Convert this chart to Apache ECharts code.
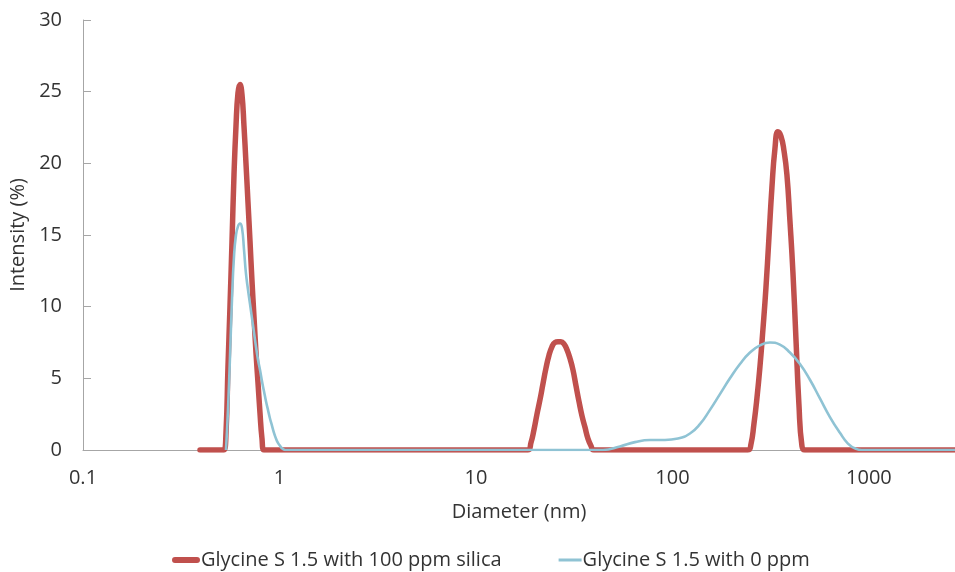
<!DOCTYPE html>
<html>
<head>
<meta charset="utf-8">
<script src="https://cdn.jsdelivr.net/npm/echarts@6/dist/echarts.min.js"></script>
<style>
html,body{margin:0;padding:0;background:#fff;overflow:hidden;}
#chart{width:955px;height:572px;}
</style>
</head>
<body>
<div id="chart"></div>
<script>
// Diameter (nm) and intensity (%)
const redDiameter = [0.394, 0.510,
  0.5219, 0.5343, 0.5469, 0.5599, 0.5732, 0.5868, 0.6007, 0.6149, 0.6295, 0.6444, 0.6597,
  0.6753, 0.6913, 0.7077, 0.7245, 0.7417, 0.7593, 0.7773, 0.7957, 0.8146, 0.8339,
  18.39, 19.05, 19.73, 20.44, 21.17, 21.92, 22.71, 23.52, 24.36, 25.23, 26.14, 27.07,
  28.04, 29.04, 30.08, 31.16, 32.27, 33.43, 34.62, 35.86, 37.15, 38.48, 39.85,
  242.2, 250.9, 259.8, 269.1, 278.8, 288.7, 299.1, 309.8, 320.8, 332.3, 344.2, 356.5,
  369.3, 382.5, 396.2, 410.4, 425.0, 440.2, 456.0, 472.3, 3000];
const redIntensity = [0, 0,
  0, 1.2, 5.8, 10.0, 14.5, 19.2, 22.6, 24.9, 25.5, 24.8, 22.6,
  20.0, 17.3, 14.6, 11.8, 9.3, 6.8, 4.7, 2.6, 0.8, 0,
  0, 0.5, 1.4, 2.5, 3.5, 4.6, 5.7, 6.6, 7.2, 7.5, 7.55, 7.55,
  7.4, 7.0, 6.4, 5.6, 4.5, 3.4, 2.4, 1.6, 0.8, 0.3, 0,
  0, 0.4, 1.8, 3.6, 5.8, 8.4, 11.3, 14.8, 18.3, 21.0, 22.2, 21.9,
  20.9, 19.2, 16.0, 12.4, 7.8, 3.2, 0.3, 0, 0];

const blueDiameter = [0.5343, 0.5469, 0.5599, 0.5732, 0.5868, 0.6007, 0.6149, 0.6295, 0.6444,
  0.6597, 0.6753, 0.6913, 0.7077, 0.7245, 0.7417, 0.7593, 0.7773, 0.7957, 0.8146, 0.8339,
  0.8537, 0.8739, 0.8946, 0.9158, 0.9375, 0.9597, 0.9825, 1.0058, 1.0296, 1.0540, 1.0790,
  44.3, 54.06, 64.46, 76.81, 91.58, 106.7, 122.8, 138.0, 155.2, 174.5, 196.2, 220.6, 248.0,
  278.8, 313.4, 352.4, 396.3, 445.6, 500.9, 563.2, 633.2, 711.9, 781.8, 858.8, 921.3, 3000];
const blueIntensity = [0, 2.8, 6.5, 10.5, 13.5, 15.0, 15.6, 15.8, 15.5,
  14.0, 12.3, 11.2, 10.2, 9.2, 8.2, 7.2, 6.3, 5.6, 4.8, 4.1,
  3.4, 2.8, 2.2, 1.7, 1.2, 0.8, 0.5, 0.3, 0.12, 0.03, 0,
  0, 0.25, 0.55, 0.7, 0.7, 0.8, 1.15, 1.8, 2.8, 3.9, 5.0, 6.0, 6.8,
  7.3, 7.5, 7.35, 6.8, 6.0, 4.9, 3.6, 2.3, 1.2, 0.45, 0.08, 0, 0];

const seriesNames = ['Glycine S 1.5 with 100 ppm silica', 'Glycine S 1.5 with 0 ppm'];
const xMin = 0.1, xMax = 2742;
const yTicks = [0, 5, 10, 15, 20, 25, 30];

const zip = (a, b) => a.map((v, i) => [v, b[i]]);
const FONT = 'Open Sans';
const FS = 20;
const TXT = '#333333';
const RED = '#c0504d', BLUE = '#8fc3d4';
// legend icons: a bar inside a 28x14 box (tiny corner dots fix the box size)
const box = 'M0,0 L0.01,0 L0.01,0.01 Z M28,14 L27.99,14 L27.99,13.99 Z ';
const redIcon = 'path://' + box + 'M3,4 H25 A3,3 0 0 1 25,10 H3 A3,3 0 0 1 3,4 Z';
const blueIcon = 'path://' + box + 'M5,5.6 H28 V8.4 H5 Z';

const chart = echarts.init(document.getElementById('chart'));
chart.setOption({
  backgroundColor: '#fff',
  animation: false,
  grid: {left: 83, right: 0, top: 20, bottom: 122, containLabel: false, outerBoundsMode: 'none'},
  xAxis: {
    type: 'log', logBase: 10, min: xMin, max: xMax,
    name: 'Diameter (nm)', nameLocation: 'middle', nameGap: 52,
    nameTextStyle: {fontFamily: FONT, fontSize: FS, color: TXT},
    axisLine: {show: true, lineStyle: {color: '#a6a6a6', width: 1}},
    axisTick: {show: false},
    splitLine: {show: false},
    axisLabel: {fontFamily: FONT, fontSize: FS, color: TXT, margin: 18, showMaxLabel: false,
      formatter: v => String(+(+v).toPrecision(3))}
  },
  yAxis: {
    type: 'value', min: yTicks[0], max: yTicks[yTicks.length - 1], interval: 5,
    name: 'Intensity (%)', nameLocation: 'middle', nameGap: 51,
    nameTextStyle: {fontFamily: FONT, fontSize: FS, color: TXT},
    axisLine: {show: true, lineStyle: {color: '#a6a6a6', width: 1}},
    axisTick: {show: true, inside: true, length: 8, lineStyle: {color: '#a6a6a6'}},
    splitLine: {show: false},
    axisLabel: {fontFamily: FONT, fontSize: FS, color: TXT, margin: 21}
  },
  legend: {
    left: 167, top: 545, itemGap: 52, itemWidth: 28, itemHeight: 14,
    textStyle: {fontFamily: FONT, fontSize: FS, color: TXT, padding: [0, 0, 0, -4]},
    data: [{name: seriesNames[0], icon: redIcon}, {name: seriesNames[1], icon: blueIcon}]
  },
  series: [
    {name: seriesNames[0], type: 'line', data: zip(redDiameter, redIntensity), symbol: 'none',
      smooth: 0.5, lineStyle: {color: RED, width: 5.5, cap: 'round', join: 'round'},
      itemStyle: {color: RED}},
    {name: seriesNames[1], type: 'line', data: zip(blueDiameter, blueIntensity), symbol: 'none',
      smooth: 0.5, lineStyle: {color: BLUE, width: 2.6}, itemStyle: {color: BLUE}}
  ]
});
</script>
</body>
</html>
